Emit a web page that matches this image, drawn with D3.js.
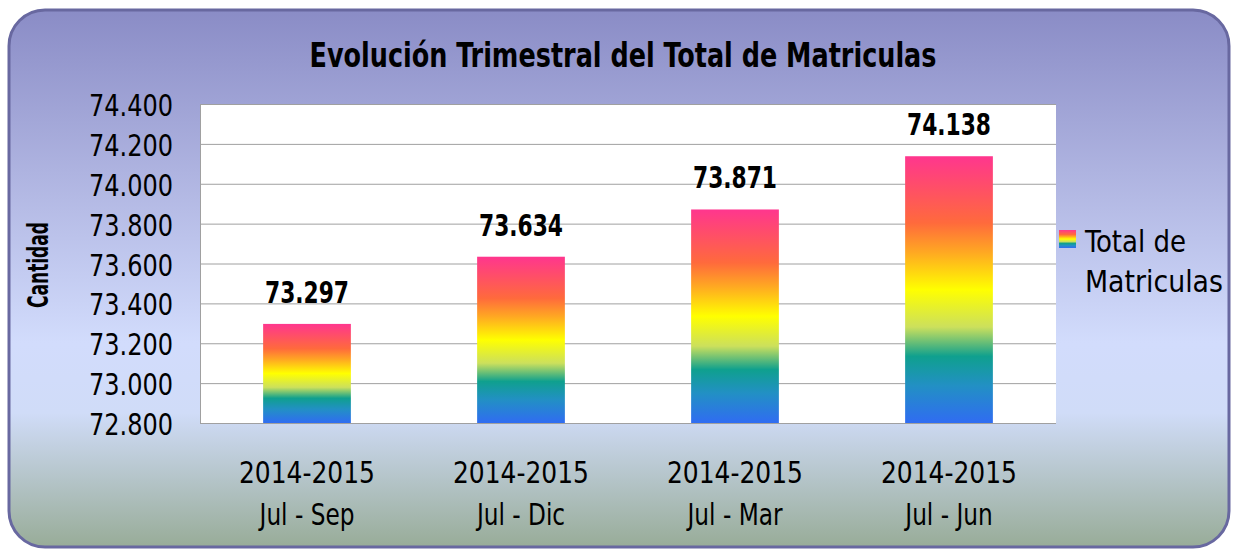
<!DOCTYPE html>
<html><head><meta charset="utf-8">
<script src="https://cdn.jsdelivr.net/npm/d3@7"></script>
<style>body{margin:0;background:#fff}svg{display:block}</style>
</head><body><svg id="c" width="1233" height="550"></svg>
<script>
const categoriesTop = ["2014-2015","2014-2015","2014-2015","2014-2015"];
const categoriesBottom = ["Jul - Sep","Jul - Dic","Jul - Mar","Jul - Jun"];
const values = [73297, 73634, 73871, 74138];
const valueLabels = ["73.297","73.634","73.871","74.138"];
const yTicks = [72800,73000,73200,73400,73600,73800,74000,74200,74400];
const yTickLabels = ["72.800","73.000","73.200","73.400","73.600","73.800","74.000","74.200","74.400"];
const title = "Evolución Trimestral del Total de Matriculas";
const yTitle = "Cantidad";
const legendLines = ["Total de","Matriculas"];

const svg = d3.select("#c");
const defs = svg.append("defs");
const bg = defs.append("linearGradient").attr("id","bg").attr("x1",0).attr("y1",0).attr("x2",0).attr("y2",1);
[[0,"#8a8cc6"],[0.3,"#aeb3e0"],[0.62,"#d2dcfc"],[0.75,"#d0dcf8"],[1,"#98ac98"]].forEach(s=>bg.append("stop").attr("offset",s[0]).attr("stop-color",s[1]));
const bar = defs.append("linearGradient").attr("id","bar").attr("x1",0).attr("y1",0).attr("x2",0).attr("y2",1);
[[0,"#ff368e"],[0.25,"#ff6a3c"],[0.36,"#ffa822"],[0.5,"#ffff00"],[0.64,"#cce05c"],[0.75,"#0fa08e"],[0.86,"#2290c4"],[1,"#306cf2"]].forEach(s=>bar.append("stop").attr("offset",s[0]).attr("stop-color",s[1]));

svg.append("rect").attr("x",9).attr("y",10).attr("width",1220).attr("height",537).attr("rx",36).attr("ry",36)
  .attr("fill","url(#bg)").attr("stroke","#6868a0").attr("stroke-width",3);

const x0=200,x1=1056,yTop=104,yBot=423;
const x = d3.scaleBand().domain(d3.range(values.length)).range([x0,x1]).paddingInner(0.59).paddingOuter(0.295);
const y = d3.scaleLinear().domain([72800,74400]).range([yBot,yTop]);

svg.append("rect").attr("x",x0).attr("y",yTop).attr("width",x1-x0).attr("height",yBot-yTop).attr("fill","#fff");
const g = svg.append("g");
g.selectAll(".grid").data(yTicks).join("line").attr("x1",x0).attr("x2",x1)
 .attr("y1",d=>y(d)+0.5).attr("y2",d=>y(d)+0.5).attr("stroke","#a0a0a0").attr("stroke-width",1);
g.append("line").attr("x1",x0+0.5).attr("x2",x0+0.5).attr("y1",yTop).attr("y2",yBot).attr("stroke","#a0a0a0");

g.selectAll(".bar").data(values).join("rect").attr("x",(d,i)=>x(i)).attr("width",x.bandwidth())
 .attr("y",d=>y(d)).attr("height",d=>yBot-y(d)).attr("fill","url(#bar)");

const cond = "'DejaVu Sans Condensed','Liberation Sans Narrow',sans-serif";
g.selectAll(".vl").data(values).join("text").attr("x",(d,i)=>x(i)+x.bandwidth()/2).attr("y",d=>y(d)-21)
 .attr("text-anchor","middle").attr("font-family",cond).attr("font-weight","bold")
 .attr("font-size",30).attr("textLength",84).attr("lengthAdjust","spacingAndGlyphs").attr("fill","#000").text((d,i)=>valueLabels[i]);

g.selectAll(".yl").data(yTicks).join("text").attr("x",173).attr("y",d=>y(d)+12)
 .attr("text-anchor","end").attr("font-family",cond).attr("font-size",30).attr("textLength",84).attr("lengthAdjust","spacingAndGlyphs").attr("fill","#000")
 .text((d,i)=>yTickLabels[i]);

g.selectAll(".xl1").data(categoriesTop).join("text").attr("x",(d,i)=>x(i)+x.bandwidth()/2).attr("y",483)
 .attr("text-anchor","middle").attr("font-family",cond).attr("font-size",30).attr("textLength",136).attr("lengthAdjust","spacingAndGlyphs").attr("fill","#000").text(d=>d);
g.selectAll(".xl2").data(categoriesBottom).join("text").attr("x",(d,i)=>x(i)+x.bandwidth()/2).attr("y",525)
 .attr("text-anchor","middle").attr("font-family",cond).attr("font-size",30).attr("fill","#000").text(d=>d)
 .each(function(){ const w=this.getComputedTextLength(); d3.select(this).attr("textLength",w*0.86).attr("lengthAdjust","spacingAndGlyphs"); });

svg.append("text").attr("x",623).attr("y",67).attr("text-anchor","middle").attr("font-family",cond)
 .attr("font-weight","bold").attr("font-size",33).attr("textLength",627).attr("lengthAdjust","spacingAndGlyphs").attr("fill","#000").text(title);

svg.append("text").attr("transform","translate(48,265) rotate(-90)").attr("text-anchor","middle")
 .attr("font-family",cond).attr("font-weight","bold").attr("font-size",29).attr("textLength",86).attr("lengthAdjust","spacingAndGlyphs").attr("fill","#000").text(yTitle);

svg.append("rect").attr("x",1059).attr("y",230).attr("width",17).attr("height",18).attr("fill","url(#bar)");
svg.selectAll(".lg").data(legendLines).join("text").attr("x",1085).attr("y",(d,i)=>252+i*40)
 .attr("font-family",cond).attr("font-size",31).attr("textLength",(d,i)=>i===0?101:138).attr("lengthAdjust","spacingAndGlyphs").attr("fill","#000").text(d=>d);
</script></body></html>
